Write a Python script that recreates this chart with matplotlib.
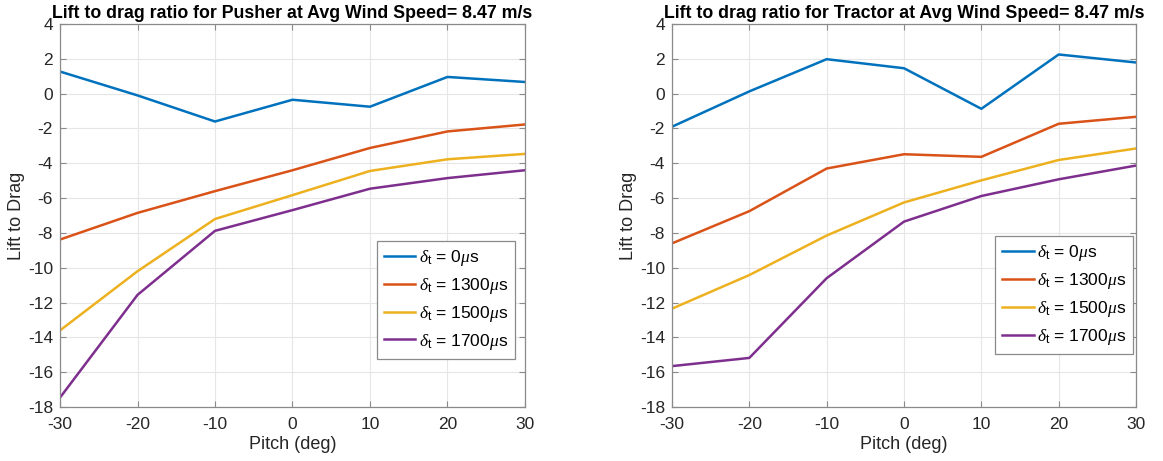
import numpy as np
import matplotlib
matplotlib.use('Agg')
import matplotlib.pyplot as plt

plt.rcParams['font.family'] = ['Liberation Sans', 'DejaVu Sans']
plt.rcParams['mathtext.fontset'] = 'custom'
plt.rcParams['mathtext.rm'] = 'Liberation Sans'
plt.rcParams['mathtext.it'] = 'Liberation Serif:italic'
plt.rcParams['axes.unicode_minus'] = False

# pitch angles (deg)
pitch = [-30, -20, -10, 0, 10, 20, 30]

# throttle settings
throttle = [0, 1300, 1500, 1700]

# lift to drag, pusher
pusher_0 = [1.27, -0.1, -1.6, -0.35, -0.75, 0.96, 0.67]
pusher_1300 = [-8.38, -6.85, -5.6, -4.4, -3.12, -2.17, -1.77]
pusher_1500 = [-13.6, -10.2, -7.2, -5.83, -4.44, -3.77, -3.46]
pusher_1700 = [-17.46, -11.56, -7.88, -6.69, -5.46, -4.85, -4.4]

# lift to drag, tractor
tractor_0 = [-1.9, 0.13, 1.98, 1.46, -0.87, 2.25, 1.79]
tractor_1300 = [-8.6, -6.75, -4.3, -3.48, -3.63, -1.73, -1.33]
tractor_1500 = [-12.35, -10.42, -8.15, -6.25, -4.98, -3.81, -3.15]
tractor_1700 = [-15.65, -15.18, -10.6, -7.35, -5.88, -4.92, -4.13]

colors = ['#0072BD', '#D95319', '#EDB120', '#7E2F8E']

fig = plt.figure(figsize=(11.63, 4.61), dpi=100)
ax1 = fig.add_axes([0.0516, 0.1171, 0.3998, 0.8308])
ax2 = fig.add_axes([0.5778, 0.1171, 0.3990, 0.8308])


def setup(ax, name, series, anchor):
    for i in range(len(series)):
        ax.plot(pitch, series[i], color=colors[i], lw=1.8,
                label=r'$\delta_{\mathrm{t}}$ = %d$\mu$s' % throttle[i])
    ax.set_xlim(-30, 30)
    ax.set_ylim(-18, 4)
    ax.set_xticks(np.arange(-30, 31, 10))
    ax.set_yticks(np.arange(-18, 5, 2))
    ax.grid(True, color='#e6e6e6', lw=0.8)
    ax.set_axisbelow(True)
    for s in ax.spines.values():
        s.set_color('#8a8a8a')
        s.set_linewidth(0.9)
    ax.tick_params(direction='in', length=4, width=0.8, color='#8a8a8a',
                   labelcolor='#262626', labelsize=12.5, top=True, right=True)
    ax.tick_params(axis='x', pad=7)
    ax.tick_params(axis='y', pad=5)
    ax.set_xlabel('Pitch (deg)', fontsize=13, color='#262626', labelpad=3)
    ax.set_ylabel('Lift to Drag', fontsize=13, color='#262626', labelpad=2)
    ax.set_title('Lift to drag ratio for %s at Avg Wind Speed= 8.47 m/s' % name,
                 fontsize=12.8, fontweight='bold', pad=4)
    leg = ax.legend(loc='upper right', bbox_to_anchor=anchor, fontsize=12.5,
                    fancybox=False, framealpha=1, edgecolor='#8a8a8a',
                    handlelength=1.8, handletextpad=0.2, labelspacing=0.45,
                    borderpad=0.4, borderaxespad=0)
    leg.get_frame().set_linewidth(0.9)


setup(ax1, 'Pusher', [pusher_0, pusher_1300, pusher_1500, pusher_1700], (0.978, 0.433))
setup(ax2, 'Tractor', [tractor_0, tractor_1300, tractor_1500, tractor_1700], (0.994, 0.446))

fig.savefig('out.png', dpi=100)
